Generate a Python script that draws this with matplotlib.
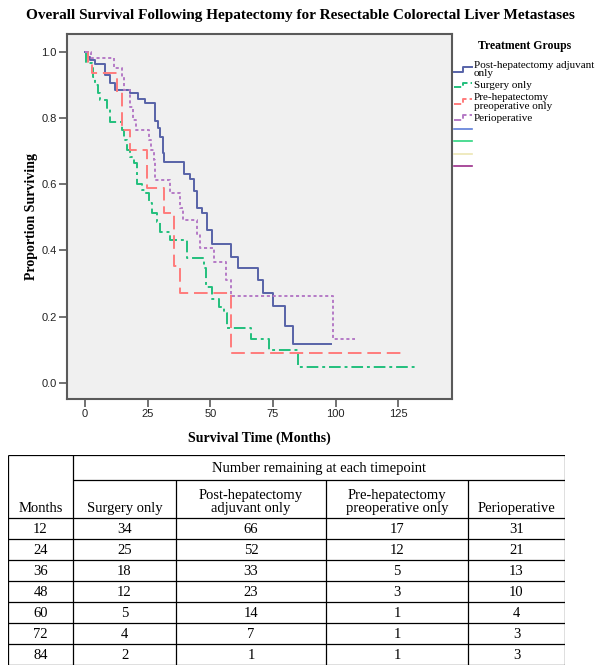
import matplotlib
matplotlib.use("Agg")
import matplotlib.pyplot as plt
from matplotlib.lines import Line2D
from matplotlib.legend_handler import HandlerBase

# Kaplan-Meier step curves (time in months, proportion surviving)
adj_t = [0, 1, 2, 4, 8, 10, 12, 18, 21, 24, 28, 29, 30, 31, 31.5, 39.4, 42, 43.5,
         44.8, 46.8, 48.8, 50.8, 58.2, 61, 69, 71, 75, 80, 83, 98]
adj_s = [1.0, 0.985, 0.976, 0.962, 0.93, 0.905, 0.884, 0.874, 0.856, 0.844, 0.79,
         0.77, 0.743, 0.694, 0.668, 0.632, 0.615, 0.58, 0.527, 0.512, 0.461, 0.421,
         0.381, 0.346, 0.311, 0.271, 0.232, 0.172, 0.117, 0.117]

surg_t = [0, 0.5, 2.7, 3.3, 4, 5.3, 6, 8.7, 9.8, 14.7, 15.4, 16.7, 18, 19.4, 20.7,
          22.7, 24.1, 25.4, 26.7, 28.8, 30.1, 34.1, 40.8, 47.5, 48.1, 50.8, 53.5,
          55.5, 56.8, 66.2, 73.5, 84.9, 132.4]
surg_s = [1.0, 0.965, 0.949, 0.924, 0.899, 0.874, 0.854, 0.829, 0.788, 0.763, 0.733,
          0.703, 0.683, 0.663, 0.602, 0.582, 0.572, 0.542, 0.512, 0.487, 0.456, 0.431,
          0.376, 0.346, 0.29, 0.255, 0.23, 0.21, 0.165, 0.132, 0.1, 0.049, 0.049]

pre_t = [0, 1, 2.7, 12.7, 14.7, 17.8, 24.7, 31.4, 35.5, 38.1, 58.2, 127.7]
pre_s = [1.0, 0.97, 0.934, 0.879, 0.763, 0.703, 0.587, 0.512, 0.352, 0.272, 0.091, 0.091]

peri_t = [0, 2.5, 11.4, 14.7, 15.5, 18, 19, 20.5, 25.4, 26.5, 27.5, 28.1, 34.1, 38.1,
          39, 44.8, 46, 51.5, 56.2, 58.2, 98.9, 107.6]
peri_s = [1.0, 0.982, 0.949, 0.924, 0.884, 0.834, 0.793, 0.763, 0.733, 0.703, 0.673,
          0.612, 0.572, 0.527, 0.492, 0.451, 0.406, 0.366, 0.311, 0.262, 0.132, 0.132]

# number-at-risk table
months = [12, 24, 36, 48, 60, 72, 84]
n_surgery = [34, 25, 18, 12, 5, 4, 2]
n_post = [66, 52, 33, 23, 14, 7, 1]
n_pre = [17, 12, 5, 3, 1, 1, 1]
n_peri = [31, 21, 13, 10, 4, 3, 3]
col_headers = ["Months", "Surgery only", "Post-hepatectomy\nadjuvant only",
               "Pre-hepatectomy\npreoperative only", "Perioperative"]

SERIF = "Liberation Serif"
SANS = "Liberation Sans"

W, H = 601, 671
fig = plt.figure(figsize=(W / 100, H / 100), dpi=100)


def px_axes(x0, y0, x1, y1):
    return fig.add_axes([x0 / W, 1 - y1 / H, (x1 - x0) / W, (y1 - y0) / H])


class StepHandler(HandlerBase):
    def create_artists(self, legend, orig, xd, yd, width, height, fontsize, trans):
        xm = -xd + width * 0.5
        ylo, yhi = -yd + height * 0.15, -yd + height * 0.75
        ln = Line2D([-xd, xm, xm, -xd + width], [ylo, ylo, yhi, yhi],
                    color=orig.get_color(), linestyle=orig.get_linestyle(),
                    linewidth=orig.get_linewidth())
        ln.set_transform(trans)
        return [ln]


# ---- survival plot ----
ax = px_axes(67, 34, 452, 399)
ax.set_facecolor("#f0f0f0")

curves = [
    ("Post-hepatectomy adjuvant\nonly", adj_t, adj_s, "#5763a8", "-"),
    ("Surgery only", surg_t, surg_s, "#22bf7c", (0, (6, 2, 1.5, 2))),
    ("Pre-hepatectomy\npreoperative only", pre_t, pre_s, "#ff7b7b", (0, (7, 3))),
    ("Perioperative", peri_t, peri_s, "#b57ac6", (0, (1.6, 1.4))),
]
handles = []
for label, t, s, c, ls in curves:
    h, = ax.step(t, s, where="post", color=c, linestyle=ls, linewidth=1.4, label=label)
    handles.append(h)

ax.set_xlim(-7.2, 146.5)
ax.set_ylim(-0.048, 1.053)
ax.set_xticks([0, 25, 50, 75, 100, 125])
ax.set_yticks([0.0, 0.2, 0.4, 0.6, 0.8, 1.0])
ax.set_yticklabels([f"{v:.1f}" for v in ax.get_yticks()])
for sp in ax.spines.values():
    sp.set_color("#5a5a5a")
    sp.set_linewidth(1.5)
ax.tick_params(colors="#5a5a5a", width=1.2, length=6, pad=1.5, labelcolor="#222222",
               labelsize=8)
for lab in ax.get_xticklabels() + ax.get_yticklabels():
    lab.set_family(SANS)

ax.set_ylabel("Proportion Surviving", family=SERIF, fontweight="bold", fontsize=10,
              labelpad=2)
ax.set_xlabel("Survival Time (Months)", family=SERIF, fontweight="bold", fontsize=10,
              labelpad=9)
fig.text(0.5, 1 - 15 / H, "Overall Survival Following Hepatectomy for Resectable "
         "Colorectal Liver Metastases", ha="center", va="center", family=SERIF,
         fontweight="bold", fontsize=11)

# empty entries: censor marker colours
extra = [Line2D([], [], color=c, linewidth=1.2)
         for c in ["#5c7dd8", "#2fd680", "#ece6b4", "#9b2e8a"]]
leg = fig.legend(handles + extra, [c[0] for c in curves] + [""] * 4,
                 loc="upper left", bbox_to_anchor=(452 / W, 1 - 38 / H),
                 frameon=False, title="Treatment Groups",
                 prop={"family": SERIF, "size": 8},
                 handlelength=1.6, handletextpad=0.15, labelspacing=0.22,
                 borderaxespad=0, borderpad=0.2,
                 handler_map={h: StepHandler() for h in handles})
leg.get_title().set_fontweight("bold")
leg.get_title().set_family(SERIF)
leg.get_title().set_fontsize(8.5)
for txt in leg.get_texts():
    txt.set_linespacing(0.95)
leg._legend_box.sep = 6

# ---- number remaining table ----
tx = px_axes(8, 455, 565, 665)
tx.set_xlim(8, 565)
tx.set_ylim(665, 455)
tx.axis("off")

col_edges = [8, 73, 176, 326, 468, 565]
top, mid, hdr_bot = 455, 480, 518
row_h = (665 - hdr_bot) / len(months)
lw = 0.9
kw = dict(color="black", linewidth=lw, solid_capstyle="butt")

tx.plot([8, 565], [top, top], **kw)
tx.plot([73, 565], [mid, mid], **kw)
for i in range(len(months) + 1):
    y = hdr_bot + i * row_h
    tx.plot([8, 565], [y, y], **kw)
tx.plot([8, 8], [top, 665], **kw)
tx.plot([565, 565], [top, 665], **kw)
tx.plot([73, 73], [top, 665], **kw)
for x in col_edges[2:-1]:
    tx.plot([x, x], [mid, 665], **kw)

tfont = dict(family=SERIF, fontsize=10.5, color="black")
tx.text((73 + 565) / 2, (top + mid) / 2 + 1, "Number remaining at each timepoint",
        ha="center", va="center", **tfont)
for j, hdr in enumerate(col_headers):
    xc = (col_edges[j] + col_edges[j + 1]) / 2
    tx.text(xc, hdr_bot - 3, hdr, ha="center", va="bottom", linespacing=1.0, **tfont)

cols = [months, n_surgery, n_post, n_pre, n_peri]
for i in range(len(months)):
    yc = hdr_bot + (i + 0.5) * row_h + 1
    for j, col in enumerate(cols):
        xc = (col_edges[j] + col_edges[j + 1]) / 2
        tx.text(xc, yc, str(col[i]), ha="center", va="center", **tfont)

fig.savefig("out.png", dpi=100)
